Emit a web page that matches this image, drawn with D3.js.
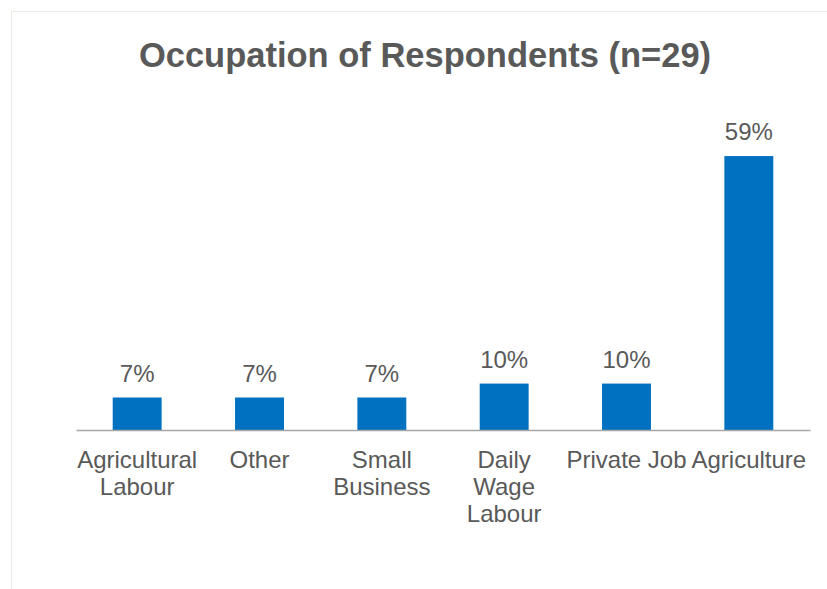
<!DOCTYPE html>
<html>
<head>
<meta charset="utf-8">
<script src="https://cdn.jsdelivr.net/npm/d3@7"></script>
<style>
  body { margin: 0; background: #fff; }
  svg { display: block; font-family: "Liberation Sans", Arial, sans-serif; }
</style>
</head>
<body>
<svg id="svg"></svg>
<script>
const W = 827, H = 589;

const categories = ["Agricultural Labour", "Other", "Small Business", "Daily Wage Labour", "Private Job", "Agriculture"];
const values = [7, 7, 7, 10, 10, 59];
const valueLabels = ["7%", "7%", "7%", "10%", "10%", "59%"];
const tickLines = [["Agricultural", "Labour"], ["Other"], ["Small", "Business"], ["Daily", "Wage", "Labour"], ["Private Job"], ["Agriculture"]];

document.addEventListener("DOMContentLoaded", function () {
    const svg = d3.select("#svg").attr("width", W).attr("height", H);

    // chart frame
    svg.append("rect")
        .attr("x", 11.5).attr("y", 11.5)
        .attr("width", W).attr("height", H)
        .attr("fill", "#fff")
        .attr("stroke", "#ebebe4")
        .attr("stroke-width", 1);

    svg.append("text")
        .attr("x", 425).attr("y", 67)
        .attr("text-anchor", "middle")
        .attr("font-size", 34.5)
        .attr("font-weight", "bold")
        .attr("fill", "#595959")
        .text("Occupation of Respondents (n=29)");

    const x = d3.scaleBand().domain(categories).range([76, 810]).paddingInner(0.6).paddingOuter(0.3);
    const y = d3.scaleLinear().domain([0, 70]).range([430, 105]);

    svg.selectAll("rect.bar")
        .data(values)
        .join("rect")
        .attr("class", "bar")
        .attr("x", (d, i) => x(categories[i]))
        .attr("y", d => y(d))
        .attr("width", x.bandwidth())
        .attr("height", d => y(0) - y(d))
        .attr("fill", "#0070c0");

    svg.selectAll("text.val")
        .data(values)
        .join("text")
        .attr("class", "val")
        .attr("x", (d, i) => x(categories[i]) + x.bandwidth() / 2)
        .attr("y", d => y(d) - 16)
        .attr("text-anchor", "middle")
        .attr("font-size", 24)
        .attr("fill", "#595959")
        .text((d, i) => valueLabels[i]);

    const axis = svg.append("g")
        .attr("transform", `translate(0,${y(0)})`)
        .call(d3.axisBottom(x).tickSize(0).tickFormat(""));
    axis.select(".domain").attr("stroke", "#a6a6a6").attr("stroke-width", 1.5);

    axis.selectAll(".tick text").remove();
    axis.selectAll(".tick").each(function (d, i) {
        const t = d3.select(this).append("text")
            .attr("text-anchor", "middle")
            .attr("font-size", 24)
            .attr("fill", "#595959");
        tickLines[i].forEach((line, j) => {
            t.append("tspan").attr("x", 0).attr("y", 38 + j * 27).text(line);
        });
    });
});
</script>
</body>
</html>
